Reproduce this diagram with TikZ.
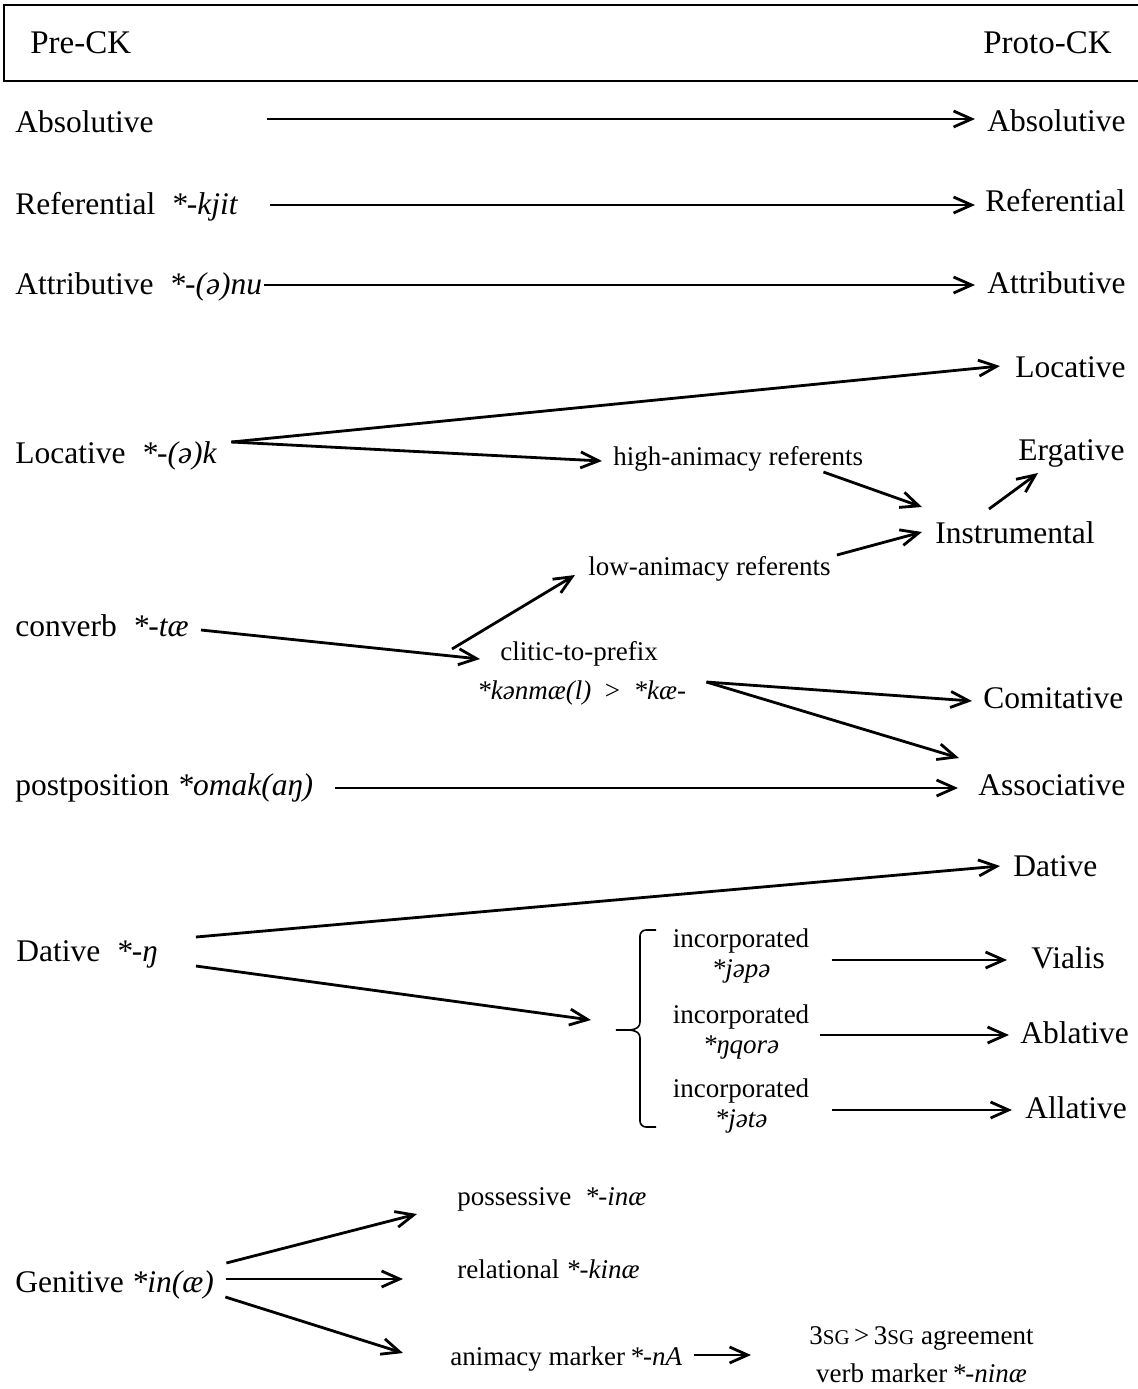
\documentclass[tikz,border=0pt]{standalone}
\usepackage{fontspec}
\setmainfont{Liberation Serif}
\usetikzlibrary{arrows.meta}
\newcommand{\sgmark}{{\fontsize{10.5}{12}\selectfont SG}}
\begin{document}
\begin{tikzpicture}[x=0.5pt, y=-0.5pt,
    big/.style={inner sep=0pt, font=\fontsize{15.75}{18}\selectfont},
    head/.style={inner sep=0pt, font=\fontsize{16.5}{18}\selectfont},
    small/.style={inner sep=0pt, font=\fontsize{13.5}{15}\selectfont},
    twoline/.style={small, align=center, font=\fontsize{13.5}{15}\selectfont},
    arr/.style={-{Straight Barb[length=9pt,width=8pt]}, line width=1.4pt}]
  \useasboundingbox (0,0) rectangle (1138,1389);

  % Header
  \draw[line width=1.4pt] (1138,5) -| (4,81) -- (1138,81);
  \node[head, anchor=base west] at (30,53) (pre) {Pre-CK};
  \node[head, anchor=base east] at (1112,53) (proto) {Proto-CK};

  % Left column
  \node[big, anchor=base west] at (15,132) (absL) {Absolutive};
  \node[big, anchor=base west] at (15,214) (refL) {Referential\ \ \textit{*-kjit}};
  \node[big, anchor=base west] at (15,294) (attL) {Attributive\ \ \textit{*-(ə)nu}};
  \node[big, anchor=base west] at (15,463) (locL) {Locative\ \ \textit{*-(ə)k}};
  \node[big, anchor=base west] at (15,636) (convL) {converb\ \ \textit{*-tæ}};
  \node[big, anchor=base west] at (15,795) (postL) {postposition \textit{*omak(aŋ)}};
  \node[big, anchor=base west] at (16,961) (datL) {Dative\ \ \textit{*-ŋ}};
  \node[big, anchor=base west] at (15,1292) (genL) {Genitive \textit{*in(æ)}};

  % Middle
  \node[small, anchor=base west] at (613,465) (high) {high-animacy referents};
  \node[small, anchor=base west] at (588,575) (low) {low-animacy referents};
  \node[small, anchor=base west] at (500,660) (clitic) {clitic-to-prefix};
  \node[small, anchor=base west] at (477,699) (kan) {\textit{*kənmæ(l)}\ \ >\ \ \textit{*kæ-}};
  \node[twoline, anchor=base] at (741,977) (incA) {incorporated\\\textit{*jəpə}};
  \node[twoline, anchor=base] at (741,1053) (incB) {incorporated\\\textit{*ŋqorə}};
  \node[twoline, anchor=base] at (741,1127) (incC) {incorporated\\\textit{*jətə}};
  \node[small, anchor=base west] at (457,1205) (poss) {possessive\ \ \textit{*-inæ}};
  \node[small, anchor=base west] at (457,1278) (rel) {relational \textit{*-kinæ}};
  \node[small, anchor=base west] at (450,1365) (anim) {animacy marker\,\textit{*-nA}};
  \node[twoline, anchor=base west, font=\fontsize{13.5}{19}\selectfont] at (809,1382) (agr)
    {3\sgmark\,>\,3\sgmark{} agreement\\verb marker\,\textit{*-ninæ}};

  % Right column
  \node[big, anchor=base west] at (987,131) (absR) {Absolutive};
  \node[big, anchor=base west] at (985,211) (refR) {Referential};
  \node[big, anchor=base west] at (987,293) (attR) {Attributive};
  \node[big, anchor=base west] at (1015,377) (locR) {Locative};
  \node[big, anchor=base west] at (1018,460) (erg) {Ergative};
  \node[big, anchor=base west] at (935,543) (instr) {Instrumental};
  \node[big, anchor=base west] at (983,708) (com) {Comitative};
  \node[big, anchor=base west] at (978,795) (asc) {Associative};
  \node[big, anchor=base west] at (1013,876) (datR) {Dative};
  \node[big, anchor=base west] at (1031,968) (vial) {Vialis};
  \node[big, anchor=base west] at (1020,1043) (abl) {Ablative};
  \node[big, anchor=base west] at (1025,1118) (all) {Allative};

  % Brace
  \draw[line width=0.8pt] (656,930) -- (646,930) to[out=180,in=90] (640,936)
    -- (640,1022) to[out=-90,in=0] (616,1030) coordinate (brc)
    to[out=0,in=90] (640,1038) -- (640,1121) to[out=-90,in=180] (646,1127) -- (656,1127);

  % Arrows
  \draw[arr] ([shift={(113,-13)}]absL.base east) -- ([shift={(-12,-12)}]absR.base west);
  \draw[arr] ([shift={(31,-9)}]refL.base east) -- ([shift={(-10,-6)}]refR.base west);
  \draw[arr] ([shift={(2,-9)}]attL.base east) -- ([shift={(-12,-8)}]attR.base west);
  \coordinate (locO) at ([shift={(14,-21)}]locL.base east);
  \draw[arr] (locO) -- ([shift={(-15,-11)}]locR.base west);
  \draw[arr] (locO) -- ([shift={(-11,-4)}]high.base west);
  \draw[arr] ([shift={(-40,7)}]high.base east) -- ([shift={(-13,-36)}]instr.base west);
  \draw[arr] ([shift={(6,-20)}]low.base east) -- ([shift={(-13,-11)}]instr.base west);
  \draw[arr] ([shift={(54,-34)}]instr.base west) -- ([shift={(20,13)}]erg.base west);
  \draw[arr] ([shift={(12,-6)}]convL.base east) -- ([shift={(-20,-1)}]clitic.base west);
  \draw[arr] ([shift={(-48,-11)}]clitic.base west) -- ([shift={(-13,0)}]low.base west);
  \coordinate (kanO) at ([shift={(20,-17)}]kan.base east);
  \draw[arr] (kanO) -- ([shift={(-11,-7)}]com.base west);
  \draw[arr] (kanO) -- ([shift={(-19,-37)}]asc.base west);
  \draw[arr] ([shift={(21,-7)}]postL.base east) -- ([shift={(-20,-7)}]asc.base west);
  \draw[arr] ([shift={(38,-24)}]datL.base east) -- ([shift={(-13,-10)}]datR.base west);
  \draw[arr] ([shift={(38,5)}]datL.base east) -- ([shift={(-25,-10)}]brc);
  \draw[arr] ([shift={(22,-17)}]incA.base east) -- ([shift={(-24,-8)}]vial.base west);
  \draw[arr] ([shift={(10,-18)}]incB.base east) -- ([shift={(-11,-8)}]abl.base west);
  \draw[arr] ([shift={(22,-17)}]incC.base east) -- ([shift={(-13,-8)}]all.base west);
  \draw[arr] ([shift={(12,-29)}]genL.base east) -- ([shift={(-40,9)}]poss.base west);
  \draw[arr] ([shift={(12,-13)}]genL.base east) -- ([shift={(-54,1)}]rel.base west);
  \draw[arr] ([shift={(11,5)}]genL.base east) -- ([shift={(-47,-12)}]anim.base west);
  \draw[arr] ([shift={(11,-10)}]anim.base east) -- ([shift={(-58,-27)}]agr.base west);
\end{tikzpicture}
\end{document}
